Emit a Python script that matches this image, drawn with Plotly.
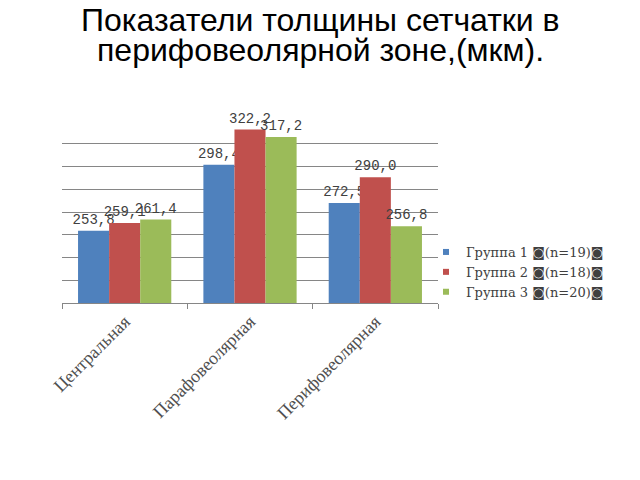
import plotly.graph_objects as go

categories = ["Центральная", "Парафовеолярная", "Перифовеолярная"]
group1 = [253.8, 298.4, 272.5]
group2 = [259.1, 322.2, 290.0]
group3 = [261.4, 317.2, 256.8]
series_names = ["Группа 1 ◙(n=19)◙", "Группа 2 ◙(n=18)◙", "Группа 3 ◙(n=20)◙"]
colors = ["#4F81BD", "#C0504D", "#9BBB59"]
title_lines = ["Показатели толщины сетчатки в", "перифовеолярной зоне,(мкм)."]

W, H = 640, 480
L, R, T, B = 62, 438, 121, 303

fig = go.Figure()
mono = "Liberation Mono"
serif = "Liberation Serif"
for vals, name, col in zip([group1, group2, group3], series_names, colors):
    fig.add_trace(go.Bar(
        x=categories, y=vals, name=name, marker_color=col,
        marker_line_width=0,
        text=[f"{v:.1f}".replace(".", ",") for v in vals],
        textposition="outside", cliponaxis=False, constraintext="none",
        textfont=dict(family=mono, size=14, color="#404040"),
        showlegend=False,
    ))
    fig.add_trace(go.Scatter(
        x=[None], y=[None], mode="markers", name=name,
        marker=dict(symbol="square", size=6, color=col),
    ))

for i, line in enumerate(title_lines):
    fig.add_annotation(
        text=line, xref="paper", yref="paper",
        x=(320 - L) / (R - L), y=(B - [20, 50][i]) / (B - T),
        xanchor="center", yanchor="middle", showarrow=False,
        font=dict(family="Liberation Sans", size=32, color="#000000"),
    )

fig.update_layout(
    width=W, height=H,
    margin=dict(l=L, r=W - R, t=T, b=H - B),
    paper_bgcolor="white", plot_bgcolor="white",
    barmode="group", bargap=0.256, bargroupgap=0,
    legend=dict(
        x=(426 - L) / (R - L), xanchor="left",
        y=(B - 272) / (B - T), yanchor="middle",
        font=dict(family="DejaVu Serif", size=13, color="#404040"),
        itemwidth=30, tracegroupgap=0, bgcolor="rgba(0,0,0,0)",
    ),
)
fig.update_xaxes(
    showline=True, linecolor="#868686", linewidth=1,
    ticks="outside", tickson="boundaries", ticklen=5, tickcolor="#868686",
    tickangle=-45, showgrid=False,
    tickfont=dict(family=serif, size=18, color="#505050"),
)
fig.update_yaxes(
    range=[205, 328], dtick=(328 - 205) / 8, tick0=205,
    showticklabels=False, showgrid=True, gridcolor="#868686", gridwidth=1,
    zeroline=False, showline=False,
)

fig.write_html("out.html")
